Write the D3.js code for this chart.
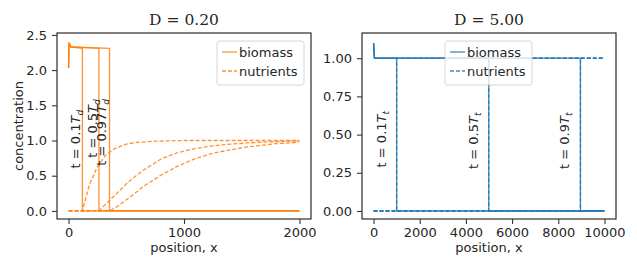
<!DOCTYPE html>
<html>
<head>
<meta charset="utf-8">
<script src="https://cdn.jsdelivr.net/npm/d3@7"></script>
<style>
  body { margin: 0; background: #fff; }
  text { font-family: "DejaVu Sans", sans-serif; fill: #262626; }
  .title { font-family: "DejaVu Serif", serif; }
</style>
</head>
<body>
<div id="container"></div>
<script>
/* DATA */
// left panel, D = 0.20
const leftTimes = ["0.1", "0.5", "0.97"]
const leftFronts = [120, 263, 355]
const leftBioX = [0, 4, 20]          // start of biomass profile
const leftBioY = [2.03, 2.39, 2.33]
const leftPlateau = 2.31
const leftNutX = [
  [0, 120, 180, 250, 320, 400, 500, 600, 750, 1000, 1500, 2000],
  [0, 263, 350, 450, 516, 650, 804, 950, 1093, 1250, 1380, 1550, 1700, 1850, 2000],
  [0, 355, 420, 516, 650, 804, 950, 1093, 1250, 1380, 1550, 1669, 1800, 1957, 2000]
]
const leftNutY = [
  [0, 0, 0.37, 0.63, 0.79, 0.885, 0.95, 0.975, 0.99, 1.0, 1.0, 1.0],
  [0, 0, 0.14, 0.3, 0.41, 0.58, 0.74, 0.83, 0.885, 0.925, 0.945, 0.965, 0.978, 0.987, 0.993],
  [0, 0, 0.06, 0.175, 0.35, 0.51, 0.64, 0.74, 0.82, 0.86, 0.91, 0.93, 0.955, 0.97, 0.98]
]
const leftLabelX = [55, 199, 285]
const leftLabelY = [1.02, 1.17, 1.115]
const leftXTicks = [0, 1000, 2000]
const leftYTicks = [0, 0.5, 1.0, 1.5, 2.0, 2.5]

// right panel, D = 5.00
const rightTimes = ["0.1", "0.5", "0.9"]
const rightFronts = [1000, 4990, 8960]
const rightBioX = [0, 40]
const rightBioY = [1.10, 1.0]
const rightPlateau = 1.0
const rightLabelX = [317, 4293, 8265]
const rightLabelY = [0.47, 0.46, 0.46]
const rightXTicks = [0, 2000, 4000, 6000, 8000, 10000]
const rightYTicks = [0, 0.25, 0.5, 0.75, 1.0]

/* CONSTANTS */
const width = 637, height = 269
const fontSize = 13

const svg = d3.select("#container")
  .append("svg")
  .attr("width", width)
  .attr("height", height)

svg.append("rect").attr("width", width).attr("height", height).attr("fill", "#fff")

function drawPanel(p) {
  const xScale = d3.scaleLinear().domain(p.xDomain).range([p.left, p.right])
  const yScale = d3.scaleLinear().domain(p.yDomain).range([p.bottom, p.top])
  const g = svg.append("g")

  const line = d3.line().x(d => xScale(d[0])).y(d => yScale(d[1]))

  // biomass curves
  p.fronts.forEach(f => {
    const pts = p.bioX.map((x, i) => [x, p.bioY[i]])
    pts.push([f, p.plateau], [f, 0], [p.xMax, 0])
    g.append("path")
      .attr("d", line(pts))
      .attr("fill", "none")
      .attr("stroke", p.color)
      .attr("stroke-opacity", 0.85)
      .attr("stroke-width", 1.3)
  })

  // nutrient curves
  p.nutrients.forEach(pts => {
    g.append("path")
      .attr("d", line(pts))
      .attr("fill", "none")
      .attr("stroke", p.color)
      .attr("stroke-opacity", 0.85)
      .attr("stroke-width", 1.3)
      .attr("stroke-dasharray", "4,2")
  })

  // time labels
  p.times.forEach((t, i) => {
    const txt = g.append("text")
      .attr("transform", `translate(${xScale(p.labelX[i])},${yScale(p.labelY[i])}) rotate(-90)`)
      .attr("text-anchor", "middle")
      .attr("dominant-baseline", "central")
      .style("font-size", fontSize + "px")
    txt.append("tspan").text(`t = ${t}`)
    txt.append("tspan").attr("font-style", "italic").text("T")
    txt.append("tspan").attr("font-style", "italic")
      .attr("baseline-shift", "sub").style("font-size", "9px").text(p.sub)
  })

  // axes
  const xAxis = d3.axisBottom(xScale).tickValues(p.xTicks).tickSize(5).tickPadding(4)
    .tickFormat(d3.format("d"))
  g.append("g")
    .attr("transform", `translate(0,${p.bottom})`)
    .call(xAxis)
  const yAxis = d3.axisLeft(yScale).tickValues(p.yTicks).tickSize(5).tickPadding(5)
    .tickFormat(d3.format(p.yFormat))
  g.append("g")
    .attr("transform", `translate(${p.left},0)`)
    .call(yAxis)
  g.selectAll(".tick text").style("font-size", fontSize + "px").attr("fill", "#262626")
    .style("font-family", "DejaVu Sans")
  g.selectAll(".tick line").attr("stroke", "#333").attr("stroke-width", 1.1)
  g.selectAll(".domain").remove()

  // frame
  g.append("rect")
    .attr("x", p.left).attr("y", p.top)
    .attr("width", p.right - p.left).attr("height", p.bottom - p.top)
    .attr("fill", "none").attr("stroke", "#333").attr("stroke-width", 1.25)

  // title and labels
  g.append("text").attr("class", "title")
    .attr("x", (p.left + p.right) / 2).attr("y", 25)
    .attr("text-anchor", "middle")
    .style("font-size", "15.5px")
    .text(p.title)
  g.append("text")
    .attr("x", (p.left + p.right) / 2).attr("y", 252)
    .attr("text-anchor", "middle")
    .style("font-size", fontSize + "px")
    .text("position, x")
  if (p.yLabel) {
    g.append("text")
      .attr("transform", `translate(18,${(p.top + p.bottom) / 2}) rotate(-90)`)
      .attr("text-anchor", "middle")
      .attr("dominant-baseline", "central")
      .style("font-size", fontSize + "px")
      .text(p.yLabel)
  }

  // legend
  const lg = g.append("g").attr("transform", `translate(${p.legendX},41)`)
  lg.append("rect")
    .attr("width", p.legendW).attr("height", 44).attr("rx", 2.5)
    .attr("fill", "#fff").attr("fill-opacity", 0.8)
    .attr("stroke", "#ccc").attr("stroke-width", 0.8)
  const entries = [["biomass", null], ["nutrients", "4,2"]]
  entries.forEach((e, i) => {
    const y = 11 + i * 19
    lg.append("line")
      .attr("x1", 5).attr("x2", 20).attr("y1", y).attr("y2", y)
      .attr("stroke", p.color).attr("stroke-opacity", 0.85)
      .attr("stroke-width", 1.3)
      .attr("stroke-dasharray", e[1])
    lg.append("text")
      .attr("x", 22).attr("y", y)
      .attr("dominant-baseline", "central")
      .style("font-size", fontSize + "px")
      .text(e[0])
  })
}

drawPanel({
  title: "D = 0.20",
  left: 57, right: 311, top: 33, bottom: 219,
  xDomain: [-100, 2100], yDomain: [-0.115, 2.527], xMax: 2000,
  xTicks: leftXTicks, yTicks: leftYTicks, yFormat: ".1f",
  color: "#ff7f0e",
  fronts: leftFronts, bioX: leftBioX, bioY: leftBioY, plateau: leftPlateau,
  nutrients: leftNutX.map((xs, k) => xs.map((x, i) => [x, leftNutY[k][i]])),
  times: leftTimes, labelX: leftLabelX, labelY: leftLabelY, sub: "d",
  yLabel: "concentration",
  legendX: 217, legendW: 87
})

drawPanel({
  title: "D = 5.00",
  left: 362, right: 616, top: 33, bottom: 219,
  xDomain: [-500, 10500], yDomain: [-0.0525, 1.165], xMax: 10000,
  xTicks: rightXTicks, yTicks: rightYTicks, yFormat: ".2f",
  color: "#1f77b4",
  fronts: rightFronts, bioX: rightBioX, bioY: rightBioY, plateau: rightPlateau,
  nutrients: rightFronts.map(f => [[0, 0], [f, 0], [f, 1], [10000, 1]]),
  times: rightTimes, labelX: rightLabelX, labelY: rightLabelY, sub: "t",
  yLabel: null,
  legendX: 445, legendW: 87
})
</script>
</body>
</html>
